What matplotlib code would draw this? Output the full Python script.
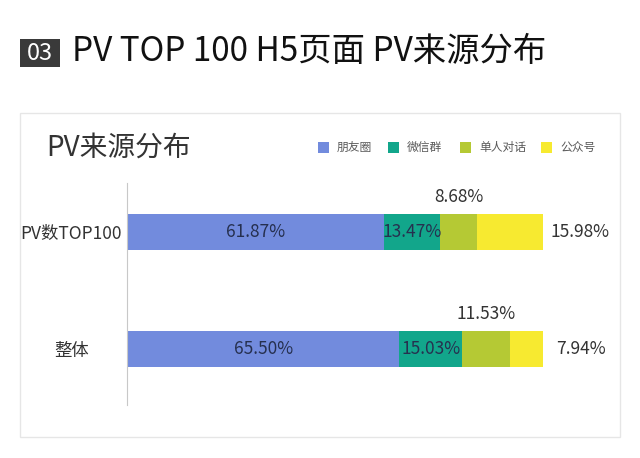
import numpy as np
import matplotlib
matplotlib.use("Agg")
import matplotlib.pyplot as plt
from matplotlib.patches import Rectangle

plt.rcParams['font.family'] = ['Noto Sans CJK SC', 'DejaVu Sans']

# data
categories = ['PV数TOP100', '整体']
sources = ['朋友圈', '微信群', '单人对话', '公众号']
values = {
    '朋友圈': [61.87, 65.50],
    '微信群': [13.47, 15.03],
    '单人对话': [8.68, 11.53],
    '公众号': [15.98, 7.94],
}
colors = ['#728bdd', '#12a68b', '#b5c934', '#f7ea30']

W, H = 640, 458
fig = plt.figure(figsize=(W / 100, H / 100), dpi=100)

def fx(px):
    return px / W

def fy(py):
    return 1 - py / H

# header
fig.patches.append(Rectangle((fx(20), fy(67)), fx(40), 28 / H, transform=fig.transFigure,
                             facecolor='#3a3a3a', edgecolor='none'))
fig.text(fx(40), fy(53), '03', color='white', fontsize=17, ha='center', va='center')
fig.text(fx(72), fy(51), 'PV TOP 100 H5页面 PV来源分布', color='#111111', fontsize=24,
         ha='left', va='center')

# panel (behind the axes)
fig.patches.append(Rectangle((fx(20), fy(437)), fx(600), 324 / H, transform=fig.transFigure,
                             facecolor='white', edgecolor='#e6e6e6', linewidth=1, zorder=-1))
fig.text(fx(46), fy(148), 'PV来源分布', color='#333333', fontsize=20, ha='left', va='center')

# legend
leg_x = [318, 388, 460, 541]
for x, name, c in zip(leg_x, sources, colors):
    fig.patches.append(Rectangle((fx(x), fy(153)), fx(11), 11 / H, transform=fig.transFigure,
                                 facecolor=c, edgecolor='none'))
    fig.text(fx(x + 19), fy(147), name, color='#595959', fontsize=8.5, ha='left', va='center')

# bars
ax = fig.add_axes([fx(127), fy(405), fx(416), 222 / H])
ax.patch.set_alpha(0)
y = np.array([1, 0])
left = np.zeros(2)
bh = 0.31
for i, (name, c) in enumerate(zip(sources, colors)):
    v = np.array(values[name])
    ax.barh(y, v, left=left, height=bh, color=c, edgecolor='none')
    for j in range(2):
        cx = left[j] + v[j] / 2
        txt = '%.2f%%' % v[j]
        if i < 2:
            ax.text(cx, y[j], txt, ha='center', va='center', fontsize=12.5, color='#26304f')
        elif i == 2:
            ax.annotate(txt, (cx, y[j] + bh / 2), xytext=(0, 12), textcoords='offset points',
                        ha='center', va='center', fontsize=12.5, color='#333333')
        else:
            ax.annotate(txt, (left[j] + v[j], y[j]), xytext=(27, 0), textcoords='offset points',
                        ha='center', va='center', fontsize=12.5, color='#333333')
    left = left + v

ax.set_xlim(0, 100)
ax.set_ylim(-0.479, 1.419)
ax.set_xticks([])
ax.set_yticks(y)
ax.set_yticklabels(categories, fontsize=12.5, color='#333333', ha='center')
ax.tick_params(axis='y', length=0, pad=40)
for s in ['top', 'right', 'bottom']:
    ax.spines[s].set_visible(False)
ax.spines['left'].set_color('#c8c8c8')
ax.spines['left'].set_linewidth(0.8)

fig.savefig('out.png', dpi=100)
